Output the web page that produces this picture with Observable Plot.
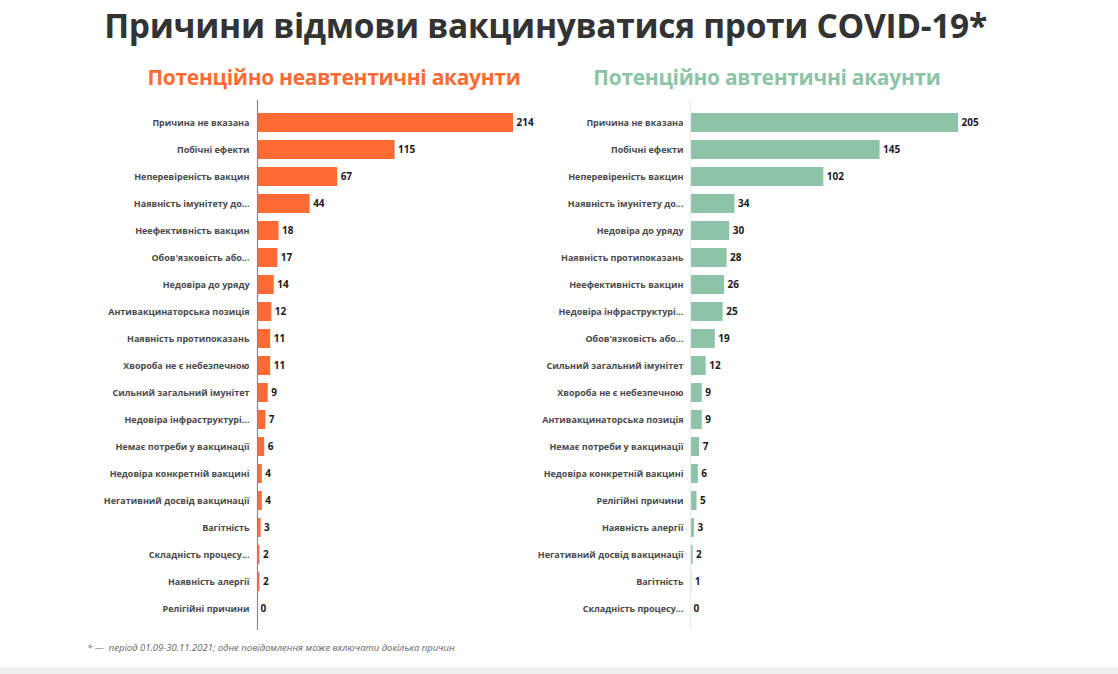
<!DOCTYPE html>
<html>
<head>
<meta charset="utf-8">
<script src="https://cdn.jsdelivr.net/npm/d3@7"></script>
<script src="https://cdn.jsdelivr.net/npm/@observablehq/plot@0.6"></script>
<style>
  html, body { margin: 0; padding: 0; background: #fff; }
  #root { position: relative; width: 1118px; height: 674px; overflow: hidden; font-family: "Open Sans", sans-serif; }
  .abs { position: absolute; }
  #title { left: 0; width: 1091px; top: 3px; text-align: center; font-size: 33.5px; font-weight: 700; color: #333; line-height: 44px; letter-spacing: -0.3px; }
  .sub { font-size: 21px; font-weight: 700; line-height: 26px; text-align: center; top: 64px; letter-spacing: -0.3px; }
  #subL { left: 134px; width: 400px; color: #ff6b35; }
  #subR { left: 567px; width: 400px; color: #8dc4a7; }
  #note { left: 87px; top: 641px; font-size: 9.5px; font-style: italic; color: #666; }
  #strip { left: 0; top: 667px; width: 1118px; height: 7px; background: #f0f0f0; }
  #plotL { left: 0; top: 98px; }
  #plotR { left: 540px; top: 98px; }
</style>
</head>
<body>
<div id="root">
  <div id="title" class="abs">Причини відмови вакцинуватися проти COVID-19*</div>
  <div id="subL" class="abs sub">Потенційно неавтентичні акаунти</div>
  <div id="subR" class="abs sub">Потенційно автентичні акаунти</div>
  <div id="plotL" class="abs"></div>
  <div id="plotR" class="abs"></div>
  <div id="note" class="abs">* —&nbsp; період 01.09-30.11.2021; одне повідомлення може включати докілька причин</div>
  <div id="strip" class="abs"></div>
</div>
<script>
const leftCategories = ["Причина не вказана","Побічні ефекти","Неперевіреність вакцин","Наявність імунітету до...","Неефективність вакцин","Обов'язковість або...","Недовіра до уряду","Антивакцинаторська позиція","Наявність протипоказань","Хвороба не є небезпечною","Сильний загальний імунітет","Недовіра інфраструктурі...","Немає потреби у вакцинації","Недовіра конкретній вакцині","Негативний досвід вакцинації","Вагітність","Складність процесу...","Наявність алергії","Релігійні причини"];
const leftValues = [214,115,67,44,18,17,14,12,11,11,9,7,6,4,4,3,2,2,0];

const rightCategories = ["Причина не вказана","Побічні ефекти","Неперевіреність вакцин","Наявність імунітету до...","Недовіра до уряду","Наявність протипоказань","Неефективність вакцин","Недовіра інфраструктурі...","Обов'язковість або...","Сильний загальний імунітет","Хвороба не є небезпечною","Антивакцинаторська позиція","Немає потреби у вакцинації","Недовіра конкретній вакцині","Релігійні причини","Наявність алергії","Негативний досвід вакцинації","Вагітність","Складність процесу..."];
const rightValues = [205,145,102,34,30,28,26,25,19,12,9,9,7,6,5,3,2,1,0];

function panel(cats, vals, opts) {
  const data = cats.map((c, i) => ({cat: c, value: vals[i]}));
  return Plot.plot({
    width: opts.width, height: 535,
    marginLeft: opts.ml, marginRight: opts.mr, marginTop: 2, marginBottom: 3,
    x: {domain: [0, d3.max(vals)], axis: null},
    y: {domain: cats, paddingInner: 0.3, paddingOuter: 0.35, tickSize: 0, tickPadding: opts.tp, label: null},
    style: {fontFamily: "'Open Sans', sans-serif", fontSize: "9px", fontWeight: 700, color: "#4a4a4a", overflow: "visible", background: "transparent"},
    marks: [
      Plot.barX(data, {x: "value", y: "cat", fill: opts.fill}),
      Plot.text(data, {x: "value", y: "cat", text: d => String(d.value), textAnchor: "start", dx: 3, fill: "#1a1a1a", fontSize: 10, fontWeight: 700}),
      Plot.ruleX([0], {stroke: opts.axis, strokeWidth: 1.2})
    ]
  });
}

document.getElementById("plotL").append(panel(leftCategories, leftValues, {width: 540, ml: 257, mr: 27, tp: 8, fill: "#ff6b35", axis: "#8a8a8a"}));
document.getElementById("plotR").append(panel(rightCategories, rightValues, {width: 578, ml: 150, mr: 160, tp: 7, fill: "#8dc4a7", axis: "#ececec"}));
</script>
</body>
</html>
